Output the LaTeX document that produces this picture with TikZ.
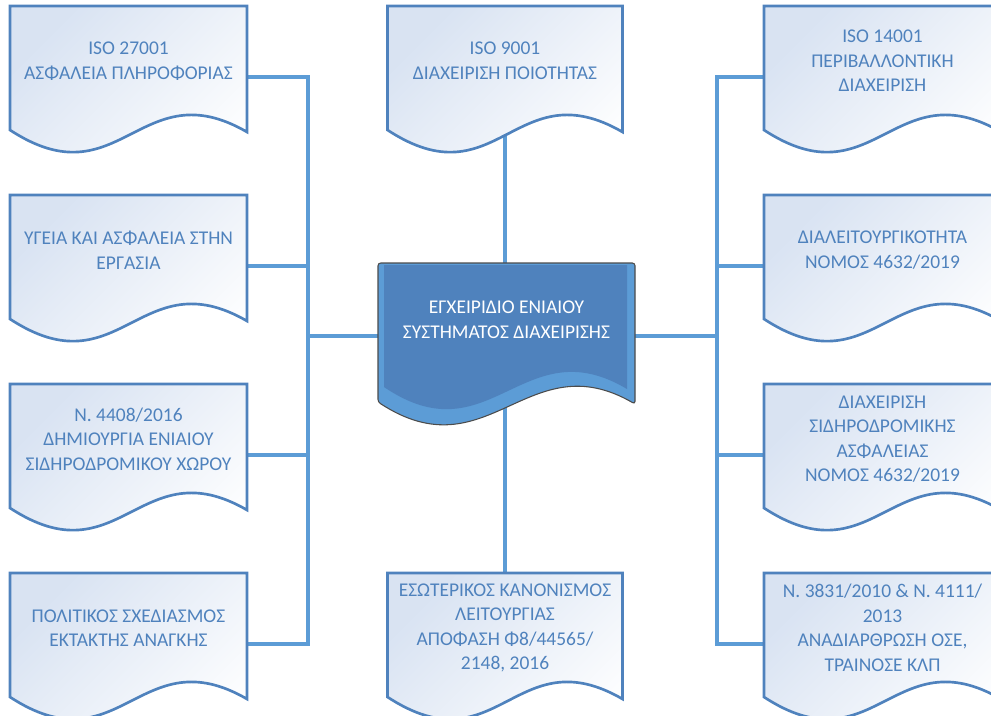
\documentclass[tikz,border=0pt]{standalone}
\usepackage{fontspec}
\setmainfont{Carlito}
\usetikzlibrary{calc,backgrounds}
\definecolor{docline}{rgb}{0.31,0.51,0.74}
\definecolor{docfill}{rgb}{0.85,0.89,0.95}
\definecolor{wireblue}{rgb}{0.36,0.61,0.84}
\definecolor{imsdark}{rgb}{0.31,0.51,0.74}
\definecolor{imslight}{rgb}{0.36,0.61,0.84}

% document outline below a text node, #3 = height of the straight sides
\newcommand{\docoutline}[3][]{%
  \path[#1] (#2.north west) -- (#2.north east) -- ($(#2.north east)+(0,#3+2)$)
    .. controls +(-107,-62) and +(110,72) .. ($(#2.north west)+(0,#3)$) -- cycle;}

\begin{document}
\begin{tikzpicture}[x=0.75pt,y=-0.75pt,line join=round,
    doc/.style={minimum width=177.75pt,minimum height=82.5pt,inner sep=0pt,outer sep=0pt,
      align=center,text=docline,font=\fontsize{14.6}{18.4}\selectfont,anchor=north},
    docshape/.style={draw=docline,line width=2pt,top color=docfill,bottom color=white,shading angle=45},
    wire/.style={draw=wireblue,line width=2.8pt,line cap=rect}]
    \useasboundingbox (0,0) rectangle (991,715);
    \clip (0,0) rectangle (991,715);
    % left column
    \node[doc] (iso27) at (128.5,6) {ISO 27001\\ΑΣΦΑΛΕΙΑ ΠΛΗΡΟΦΟΡΙΑΣ};
    \node[doc] (health) at (128.5,195) {ΥΓΕΙΑ ΚΑΙ ΑΣΦΑΛΕΙΑ ΣΤΗΝ\\ΕΡΓΑΣΙΑ};
    \node[doc] (law4408) at (128.5,384) {Ν. 4408/2016\\ΔΗΜΙΟΥΡΓΙΑ ΕΝΙΑΙΟΥ\\ΣΙΔΗΡΟΔΡΟΜΙΚΟΥ ΧΩΡΟΥ};
    \node[doc] (civil) at (128.5,573) {ΠΟΛΙΤΙΚΟΣ ΣΧΕΔΙΑΣΜΟΣ\\ΕΚΤΑΚΤΗΣ ΑΝΑΓΚΗΣ};
    % middle column
    \node[doc,minimum width=176.25pt] (iso9) at (505,6) {ISO 9001\\ΔΙΑΧΕΙΡΙΣΗ ΠΟΙΟΤΗΤΑΣ};
    \node[doc,minimum width=192.75pt,minimum height=85.5pt,text=white] (ims) at (506.5,263)
      {ΕΓΧΕΙΡΙΔΙΟ ΕΝΙΑΙΟΥ\\ΣΥΣΤΗΜΑΤΟΣ ΔΙΑΧΕΙΡΙΣΗΣ};
    \node[doc,minimum width=176.25pt] (regul) at (505,573)
      {ΕΣΩΤΕΡΙΚΟΣ ΚΑΝΟΝΙΣΜΟΣ\\ΛΕΙΤΟΥΡΓΙΑΣ\\ΑΠΟΦΑΣΗ Φ8/44565/\\2148, 2016};
    % right column
    \node[doc] (iso14) at (882.5,6) {ISO 14001\\ΠΕΡΙΒΑΛΛΟΝΤΙΚΗ\\ΔΙΑΧΕΙΡΙΣΗ};
    \node[doc] (interop) at (882.5,195) {ΔΙΑΛΕΙΤΟΥΡΓΙΚΟΤΗΤΑ\\ΝΟΜΟΣ 4632/2019};
    \node[doc] (safety) at (882.5,384) {ΔΙΑΧΕΙΡΙΣΗ\\ΣΙΔΗΡΟΔΡΟΜΙΚΗΣ\\ΑΣΦΑΛΕΙΑΣ\\ΝΟΜΟΣ 4632/2019};
    \node[doc] (law3831) at (882.5,573) {Ν. 3831/2010 \& Ν. 4111/\\2013\\ΑΝΑΔΙΑΡΘΡΩΣΗ ΟΣΕ,\\ΤΡΑΙΝΟΣΕ ΚΛΠ};
    \begin{scope}[on background layer]
      % connectors
      \foreach \d in {iso27,health,law4408,civil}
        \draw[wire] ($(\d.east)+(0,16)$) -- ++(61,0);
      \draw[wire] ($(iso27.east)+(61,16)$) -- ($(civil.east)+(61,16)$);
      \draw[wire] ($(ims.west)+(0,16)$) -- ++(-70,0);
      \foreach \d in {iso14,interop,safety,law3831}
        \draw[wire] ($(\d.west)+(0,16)$) -- ++(-47,0);
      \draw[wire] ($(iso14.west)+(-47,16)$) -- ($(law3831.west)+(-47,16)$);
      \draw[wire] ($(ims.east)+(0,16)$) -- ++(82,0);
      \draw[wire] ($(iso9.south)+(0,10)$) -- (iso9.south |- ims.north);
      \draw[wire] (regul.north) -- ($(regul.north |- ims.south)+(0,20)$);
      % boxes
      \foreach \d in {iso27,health,law4408,civil,iso9,regul,iso14,interop,safety,law3831}
        \docoutline[docshape]{\d}{124};
      \docoutline[fill=imslight,draw=black!70,line width=0.8pt,rounded corners=2pt]{ims}{139};
      \fill[imsdark] ($(ims.north west)+(6,2)$) -- ($(ims.north east)+(-8,2)$) -- ++(0,124)
        .. controls +(-104,-62) and +(106,72) .. ($(ims.north west)+(6,124)$) -- cycle;
    \end{scope}
  \end{tikzpicture}
\end{document}
